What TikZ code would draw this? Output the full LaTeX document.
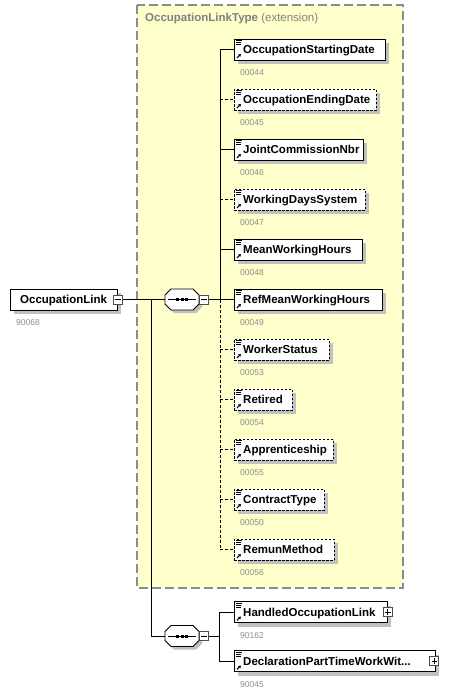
\documentclass[tikz,border=0pt]{standalone}
\usepackage{fontspec}
\setmainfont{Liberation Sans}
\usetikzlibrary{positioning,shadows,arrows.meta}

\definecolor{typebg}{RGB}{255,255,204}
\definecolor{typeframe}{RGB}{140,140,140}
\definecolor{typetitle}{RGB}{128,128,128}
\definecolor{idgray}{RGB}{140,140,140}
\definecolor{shadowgray}{RGB}{192,192,192}

\begin{document}
\begin{tikzpicture}[x=1pt,y=-1pt,
  box/.style={draw, fill=white, anchor=west, minimum height=21pt, inner sep=0pt, line width=0.8pt,
    general shadow={fill=shadowgray, draw=none, shadow xshift=4pt, shadow yshift=-4pt}},
  elem/.style={box, minimum width=#1, path picture={
      \draw[solid, black, line width=0.8pt]
        ([xshift=2pt,yshift=-1.8pt]path picture bounding box.north west) -- ++(6pt,0pt)
        ([xshift=2pt,yshift=-3.8pt]path picture bounding box.north west) -- ++(5pt,0pt)
        ([xshift=2pt,yshift=-5.8pt]path picture bounding box.north west) -- ++(5pt,0pt);
      \draw[solid, black, line width=1pt, -{Triangle[length=2.5pt,width=3pt]}]
        ([xshift=2.5pt,yshift=2pt]path picture bounding box.south west) -- ++(4pt,4pt);
    }},
  optelem/.style={elem=#1, dash pattern=on 2.5pt off 1.5pt},
  etext/.style={inner sep=0pt, font=\fontsize{11.5}{14}\selectfont\bfseries, text height=8.3pt, text depth=0pt},
  idtext/.style={inner sep=0pt, font=\fontsize{8.5}{10}\selectfont, text=idgray, text height=6.1pt, text depth=0pt},
  seqspot/.style={minimum width=34pt, minimum height=21pt, inner sep=0pt, outer sep=0pt},
  seqframe/.style={draw, fill=white, line width=0.8pt,
    general shadow={fill=shadowgray, draw=none, shadow xshift=3pt, shadow yshift=-3pt},
    path picture={
      \draw[black, line width=0.8pt] ([xshift=3pt]path picture bounding box.west) -- ([xshift=-3pt]path picture bounding box.east);
      \foreach \d in {-4.2,0,4.2}
        \fill[black] ([xshift=\d pt-1.5pt,yshift=-1.5pt]path picture bounding box.center) rectangle ++(3pt,3pt);
    }},
  xbox/.style={draw=black!70, fill=white, minimum size=9pt, inner sep=0pt, line width=0.7pt},
  minusbox/.style={xbox, path picture={
      \draw[black, line width=0.8pt] ([xshift=1.8pt]path picture bounding box.west) -- ([xshift=-1.8pt]path picture bounding box.east);
    }},
  plusbox/.style={xbox, path picture={
      \draw[black, line width=0.8pt] ([xshift=1.8pt]path picture bounding box.west) -- ([xshift=-1.8pt]path picture bounding box.east)
        ([yshift=-1.8pt]path picture bounding box.north) -- ([yshift=1.8pt]path picture bounding box.south);
    }},
  link/.style={line width=0.8pt},
  optlink/.style={line width=0.8pt, dash pattern=on 3pt off 2pt}
]
\useasboundingbox (0,0) rectangle (466,694);

% complex type extension
\draw[fill=typebg, draw=typeframe, line width=1.2pt, dash pattern=on 9pt off 4pt] (137,5) rectangle (403,588);
\node[anchor=west, inner sep=0pt, text=typetitle, font=\fontsize{11.5}{13}\selectfont] (title) at (145,19)
  {\textbf{OccupationLinkType} (extension)};

% root element
\node[box, minimum width=107pt] (ol) at (10,299.5) {};
\node[etext, right=10pt of ol.west] (olt) {OccupationLink};
\node[idtext, below right=9pt and 6pt of ol.south west] (olid) {90068};
\node[minusbox] (olx) at (ol.east) {};

% sequences
\node[seqspot] (seqa) at (182,299.5) {};
\draw[seqframe] ([xshift=6pt]seqa.north west) -- ([xshift=-6pt]seqa.north east) -- ([yshift=-6pt]seqa.north east)
  -- ([yshift=6pt]seqa.south east) -- ([xshift=-6pt]seqa.south east) -- ([xshift=6pt]seqa.south west)
  -- ([yshift=6pt]seqa.south west) -- ([yshift=-6pt]seqa.north west) -- cycle;
\node[minusbox, right=0pt of seqa.east] (seqax) {};
\node[seqspot] (seqb) at (182,636) {};
\draw[seqframe] ([xshift=6pt]seqb.north west) -- ([xshift=-6pt]seqb.north east) -- ([yshift=-6pt]seqb.north east)
  -- ([yshift=6pt]seqb.south east) -- ([xshift=-6pt]seqb.south east) -- ([xshift=6pt]seqb.south west)
  -- ([yshift=6pt]seqb.south west) -- ([yshift=-6pt]seqb.north west) -- cycle;
\node[minusbox, right=0pt of seqb.east] (seqbx) {};

\coordinate (split) at (151,299.5);
\coordinate (busa) at (220,299.5);
\coordinate (busb) at (219,636);

% children of the first sequence
\node[elem=151pt] (osd) at (234,49.5) {};
\node[optelem=142pt] (oed) at (234,99.5) {};
\node[elem=129pt] (jcn) at (234,149.5) {};
\node[optelem=131pt] (wds) at (234,199.5) {};
\node[elem=128pt] (mwh) at (234,249.5) {};
\node[elem=148pt] (rmwh) at (234,299.5) {};
\node[optelem=95pt] (wst) at (234,349.5) {};
\node[optelem=58pt] (ret) at (234,399.5) {};
\node[optelem=99pt] (app) at (234,449.5) {};
\node[optelem=90pt] (ctp) at (234,499.5) {};
\node[optelem=100pt] (rem) at (234,549.5) {};

\node[etext, right=9pt of osd.west] (osdt) {OccupationStartingDate};
\node[etext, right=9pt of oed.west] (oedt) {OccupationEndingDate};
\node[etext, right=9pt of jcn.west] (jcnt) {JointCommissionNbr};
\node[etext, right=9pt of wds.west] (wdst) {WorkingDaysSystem};
\node[etext, right=9pt of mwh.west] (mwht) {MeanWorkingHours};
\node[etext, right=9pt of rmwh.west] (rmwht) {RefMeanWorkingHours};
\node[etext, right=9pt of wst.west] (wstt) {WorkerStatus};
\node[etext, right=9pt of ret.west] (rett) {Retired};
\node[etext, right=9pt of app.west] (appt) {Apprenticeship};
\node[etext, right=9pt of ctp.west] (ctpt) {ContractType};
\node[etext, right=9pt of rem.west] (remt) {RemunMethod};

\node[idtext, below right=9pt and 6pt of osd.south west] {00044};
\node[idtext, below right=9pt and 6pt of oed.south west] {00045};
\node[idtext, below right=9pt and 6pt of jcn.south west] {00046};
\node[idtext, below right=9pt and 6pt of wds.south west] {00047};
\node[idtext, below right=9pt and 6pt of mwh.south west] {00048};
\node[idtext, below right=9pt and 6pt of rmwh.south west] {00049};
\node[idtext, below right=9pt and 6pt of wst.south west] {00053};
\node[idtext, below right=9pt and 6pt of ret.south west] {00054};
\node[idtext, below right=9pt and 6pt of app.south west] {00055};
\node[idtext, below right=9pt and 6pt of ctp.south west] {00050};
\node[idtext, below right=9pt and 6pt of rem.south west] {00056};

% children of the second sequence
\node[elem=153pt] (hol) at (234,612) {};
\node[elem=201pt] (dpt) at (234,661) {};
\node[etext, right=9pt of hol.west] (holt) {HandledOccupationLink};
\node[etext, right=9pt of dpt.west] (dptt) {DeclarationPartTimeWorkWit...};
\node[idtext, below right=9pt and 6pt of hol.south west] {90162};
\node[idtext, below right=9pt and 6pt of dpt.south west] {90045};
\node[plusbox] (holx) at (hol.east) {};
\node[plusbox] (dptx) at ([xshift=-1.5pt]dpt.east) {};

% connectors
\draw[link] (olx.east) -- (seqa.west);
\draw[link] (split) |- (seqb.west);
\draw[link] (seqax.east) -- (busa);
\draw[link] (seqbx.east) -- (busb);

\draw[link] (busa |- osd.west) -- (busa |- rmwh.west);
\draw[optlink] (busa |- rmwh.west) -- (busa |- rem.west);
\draw[link] (busa |- osd.west) -- (osd.west);
\draw[optlink] (busa |- oed.west) -- (oed.west);
\draw[link] (busa |- jcn.west) -- (jcn.west);
\draw[optlink] (busa |- wds.west) -- (wds.west);
\draw[link] (busa |- mwh.west) -- (mwh.west);
\draw[link] (busa |- rmwh.west) -- (rmwh.west);
\draw[optlink] (busa |- wst.west) -- (wst.west);
\draw[optlink] (busa |- ret.west) -- (ret.west);
\draw[optlink] (busa |- app.west) -- (app.west);
\draw[optlink] (busa |- ctp.west) -- (ctp.west);
\draw[optlink] (busa |- rem.west) -- (rem.west);

\draw[link] (busb |- hol.west) -- (busb |- dpt.west);
\draw[link] (busb |- hol.west) -- (hol.west);
\draw[link] (busb |- dpt.west) -- (dpt.west);
\end{tikzpicture}
\end{document}
